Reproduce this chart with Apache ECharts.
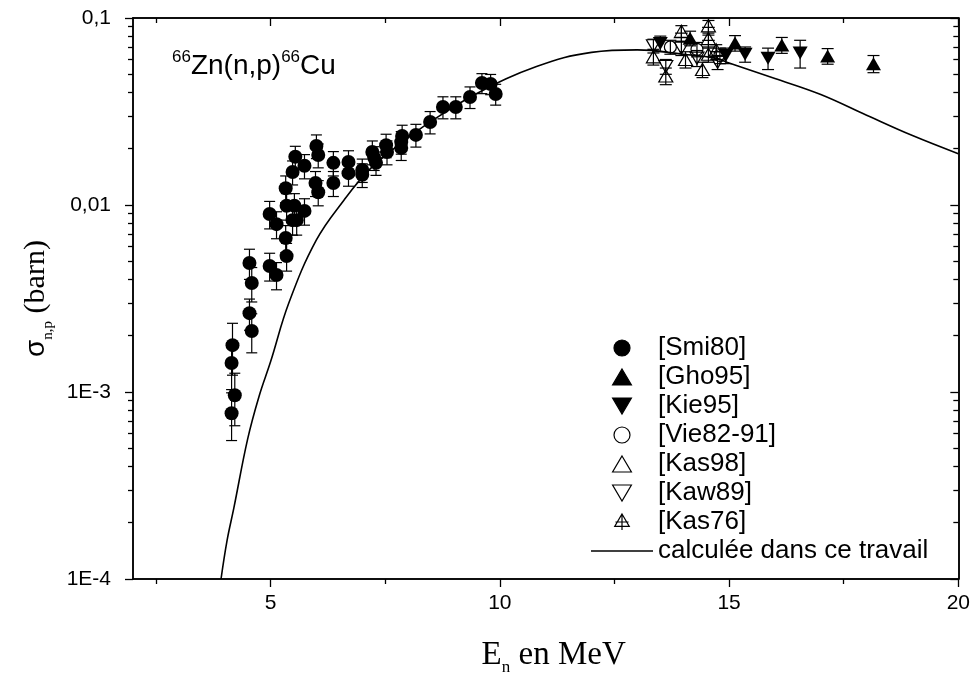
<!DOCTYPE html>
<html><head><meta charset="utf-8">
<script src="https://cdn.jsdelivr.net/npm/echarts@6/dist/echarts.min.js"></script>
<style>html,body{margin:0;padding:0;background:#fff}#c{width:973px;height:681px}</style>
</head><body><div id="c"></div>
<script>
// ---- data: [E (MeV), sigma (barn), error (barn)] ----
const smi80 = [
  [4.15,0.00077,0.00022],[4.22,0.00096,0.00030],[4.15,0.00143,0.00040],[4.17,0.00178,0.00055],
  [4.54,0.00264,0.00050],[4.59,0.00212,0.00050],[4.59,0.00383,0.00080],[4.54,0.0049,0.0009],
  [4.98,0.00472,0.0008],[5.13,0.00422,0.0007],[4.98,0.00895,0.0015],[5.13,0.0079,0.0013],
  [5.33,0.00666,0.0011],[5.35,0.00533,0.0009],[5.33,0.0123,0.0020],[5.35,0.0099,0.0016],
  [5.52,0.0099,0.0016],[5.48,0.0083,0.0014],[5.57,0.0083,0.0014],[5.74,0.0093,0.0015],
  [5.54,0.0181,0.0025],[5.48,0.0150,0.0022],[5.74,0.0162,0.0024],[6.00,0.0207,0.0030],
  [6.04,0.0185,0.0027],[5.98,0.0131,0.0020],[6.04,0.0117,0.0018],[6.37,0.0168,0.0025],
  [6.37,0.0131,0.0020],[6.70,0.0170,0.0025],[6.70,0.0148,0.0022],[7.00,0.0154,0.0022],
  [7.00,0.0145,0.0021],[7.22,0.0192,0.0028],[7.26,0.0179,0.0026],[7.30,0.0168,0.0024],
  [7.52,0.0209,0.0030],[7.54,0.0192,0.0028],[7.85,0.0217,0.0030],[7.87,0.0234,0.0033],
  [7.85,0.0202,0.0029],[8.17,0.0237,0.0033],[8.48,0.0278,0.0038],[8.76,0.0334,0.0045],
  [9.04,0.0334,0.0045],[9.35,0.0378,0.0050],[9.61,0.0449,0.0055],[9.80,0.0444,0.0055],
  [9.91,0.0392,0.0050]
];
const gho95 = [[14.15,0.078,0.007],[15.13,0.0735,0.007],[16.15,0.0717,0.007],[17.15,0.0626,0.006],[18.15,0.057,0.006]];
const kie95 = [[13.5,0.073,0.007],[14.93,0.063,0.006],[15.35,0.064,0.006],[15.85,0.061,0.008],[16.55,0.065,0.011]];
const vie82_91 = [[13.72,0.070,0.006],[14.3,0.068,0.006],[14.8,0.063,0.006]];
const kas98 = [[13.35,0.062,0.006],[13.62,0.049,0.005],[14.05,0.060,0.006],[14.42,0.053,0.005],[14.55,0.064,0.006]];
const kaw89 = [[13.35,0.071,0.006],[13.62,0.055,0.005],[13.96,0.069,0.006],[14.3,0.061,0.006],[14.75,0.058,0.005]];
const kas76 = [[13.96,0.083,0.008],[14.55,0.089,0.008],[14.55,0.076,0.007],[14.72,0.066,0.006]];
// calculated excitation function
const curve = [
  [3.92,0.0001],[4.05,0.00016],[4.2,0.00024],[4.5,0.00056],[4.75,0.00095],[5.0,0.00145],
  [5.4,0.0030],[6.0,0.0065],[6.6,0.0106],[7.15,0.0154],[7.8,0.021],[8.5,0.028],[9.5,0.0395],
  [10.8,0.055],[12.0,0.0655],[13.0,0.0675],[14.0,0.064],[14.7,0.061],[15.0,0.0575],[16.0,0.0475],
  [17.0,0.039],[18.0,0.0302],[19.0,0.0235],[20.0,0.0188]
];
const seriesNames = ['[Smi80]','[Gho95]','[Kie95]','[Vie82-91]','[Kas98]','[Kaw89]','[Kas76]'];
const curveName = 'calculée dans ce travail';
// ---- axes ticks ----
const xMajorTicks = [5,10,15,20];
const xMinorTicks = [2.5,7.5,12.5,17.5];
const yMajorTicks = [0.0001,0.001,0.01,0.1];
const yTickLabels = ['1E-4','1E-3','0,01','0,1'];
const yMinorTicks = [2e-4,3e-4,4e-4,5e-4,6e-4,7e-4,8e-4,9e-4,2e-3,3e-3,4e-3,5e-3,6e-3,7e-3,8e-3,9e-3,0.02,0.03,0.04,0.05,0.06,0.07,0.08,0.09];

const SANS = 'Liberation Sans', SERIF = 'Liberation Serif';
const SYM_UP = 'path://M10,0L20,17L0,17Z';
const SYM_DOWN = 'path://M0,0L20,0L10,17Z';
const SYM_KAS76 = 'path://M10,0L20,17L0,17Z M10,0L10,22 M1,11L19,11';
const SYM_LINE = 'path://M0,0H60V1.4H0Z';

const chart = echarts.init(document.getElementById('c'));
const axisLine = {show:true, lineStyle:{color:'#000', width:1.5}};

function xAxisDef(pos, ticks, len, inside, labels, name) {
  const a = {
    type:'value', position:pos, min:2, max:20, gridIndex:0,
    axisLine: axisLine,
    axisTick:{show:true, customValues:ticks, length:len, inside:inside, lineStyle:{color:'#000', width:1.3}},
    axisLabel: labels ? {show:true, customValues:labels, color:'#000', fontFamily:SANS, fontSize:21, margin:14} : {show:false},
    splitLine:{show:false}
  };
  if (name) Object.assign(a, name);
  return a;
}
function yAxisDef(pos, ticks, len, inside, labels, name) {
  const a = {
    type:'log', logBase:10, position:pos, min:0.0001, max:0.1, gridIndex:0,
    axisLine: axisLine,
    axisTick:{show:true, customValues:ticks, length:len, inside:inside, lineStyle:{color:'#000', width:1.3}},
    axisLabel: labels ? {show:true, customValues:labels, color:'#000', fontFamily:SANS, fontSize:21, margin:22,
      formatter: v => { const i = yMajorTicks.findIndex(t => Math.abs(Math.log10(t) - Math.log10(v)) < 1e-6); return i >= 0 ? yTickLabels[i] : ''; }
    } : {show:false},
    splitLine:{show:false}
  };
  if (name) Object.assign(a, name);
  return a;
}

function errSeries(data, cap) {
  return {
    type:'custom', name:'err', data:data, z:3, silent:true,
    encode:{x:0, y:1},
    renderItem:(params, api) => {
      const x = api.value(0), y = api.value(1), e = api.value(2);
      const t = api.coord([x, y + e]);
      const b = api.coord([x, Math.max(y - e, 1e-6)]);
      const st = {stroke:'#000', lineWidth:1.2};
      return {type:'group', children:[
        {type:'line', shape:{x1:t[0], y1:t[1], x2:b[0], y2:b[1]}, style:st},
        {type:'line', shape:{x1:t[0]-cap/2, y1:t[1], x2:t[0]+cap/2, y2:t[1]}, style:st},
        {type:'line', shape:{x1:b[0]-cap/2, y1:b[1], x2:b[0]+cap/2, y2:b[1]}, style:st}
      ]};
    }
  };
}
function markSeries(name, data, symbol, size, filled) {
  return {
    type:'scatter', name:name, data:data.map(d => [d[0], d[1]]), symbol:symbol, symbolSize:size, z:4,
    itemStyle: filled ? {color:'#000', borderColor:'#000', borderWidth:0, opacity:1}
                      : {color:'rgba(0,0,0,0)', borderColor:'#000', borderWidth:1.2, opacity:1}
  };
}

const option = {
  animation:false,
  backgroundColor:'#fff',
  grid:{left:133, right:13, top:18, bottom:101, containLabel:false},
  title:{
    left:167, top:44,
    text:'{sup|66}{m|Zn(n,p)}{sup|66}{m|Cu}',
    textStyle:{fontWeight:'normal', rich:{
      m:{fontFamily:SANS, fontSize:28, fontWeight:'normal', color:'#000'},
      sup:{fontFamily:SANS, fontSize:17, fontWeight:'normal', color:'#000', padding:[0,0,18,0]}
    }}
  },
  legend:{
    orient:'vertical', left:591, top:335, padding:0,
    itemWidth:62, itemHeight:16, itemGap:3, selectedMode:false,
    itemStyle:{borderWidth:1.2},
    textStyle:{fontFamily:SANS, fontSize:26, color:'#000'},
    data: seriesNames.map(n => ({name:n})).concat([{name:curveName, icon:SYM_LINE, itemStyle:{borderWidth:0, color:'#000'}}])
  },
  xAxis:[
    xAxisDef('bottom', xMajorTicks, 8, false, xMajorTicks, {
      name:'{e|E}{sub|n}{e| en MeV}', nameLocation:'middle', nameGap:56,
      nameTextStyle:{padding:[0,0,0,16], rich:{
        e:{fontFamily:SERIF, fontSize:33, color:'#000'},
        sub:{fontFamily:SERIF, fontSize:17, color:'#000', padding:[24,0,0,0]}
      }}
    }),
    xAxisDef('bottom', xMinorTicks, 5, false, null),
    xAxisDef('top', xMajorTicks, 8, true, null),
    xAxisDef('top', xMinorTicks, 5, true, null)
  ],
  yAxis:[
    yAxisDef('left', yMajorTicks, 8, false, yMajorTicks, {
      name:'{s|σ}{sub|n,p}{b| (barn)}', nameLocation:'middle', nameGap:76, nameRotate:90,
      nameTextStyle:{rich:{
        s:{fontFamily:SANS, fontSize:28, color:'#000'},
        sub:{fontFamily:SERIF, fontSize:15, color:'#000', padding:[24,0,0,0]},
        b:{fontFamily:SERIF, fontSize:30, color:'#000'}
      }}
    }),
    yAxisDef('left', yMinorTicks, 5, false, null),
    yAxisDef('right', yMajorTicks, 8, true, null),
    yAxisDef('right', yMinorTicks, 5, true, null)
  ],
  series:[
    {type:'line', name:curveName, data:curve, smooth:0.4, showSymbol:false, symbol:'none', z:2,
     lineStyle:{color:'#000', width:1.6}, itemStyle:{color:'#000'}},
    errSeries(smi80, 11), errSeries(gho95, 12), errSeries(kie95, 12), errSeries(vie82_91, 12),
    errSeries(kas98, 12), errSeries(kaw89, 12), errSeries(kas76, 12),
    markSeries(seriesNames[0], smi80, 'circle', 14, true),
    markSeries(seriesNames[1], gho95, SYM_UP, [15,13], true),
    markSeries(seriesNames[2], kie95, SYM_DOWN, [15,13], true),
    markSeries(seriesNames[3], vie82_91, 'circle', 12, false),
    markSeries(seriesNames[4], kas98, SYM_UP, [14,12], false),
    markSeries(seriesNames[5], kaw89, SYM_DOWN, [14,12], false),
    markSeries(seriesNames[6], kas76, SYM_KAS76, [14,16], false)
  ]
};
chart.setOption(option);
</script></body></html>
